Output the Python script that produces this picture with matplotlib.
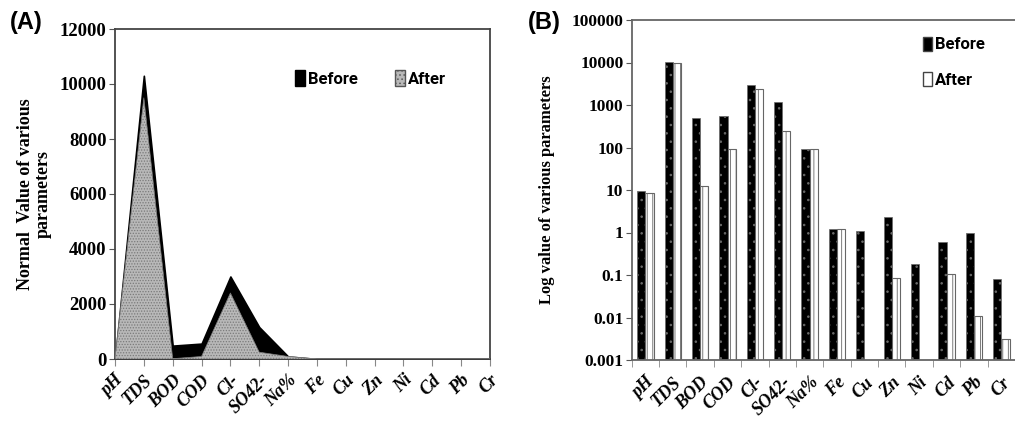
import matplotlib
matplotlib.use("Agg")
import matplotlib.pyplot as plt
import numpy as np

params = ["pH", "TDS", "BOD", "COD", "Cl-", "SO42-", "Na%", "Fe", "Cu", "Zn",
          "Ni", "Cd", "Pb", "Cr"]
before = [9.6, 10300, 486, 560, 3000, 1160, 92, 1.19, 1.08, 2.28, 0.18, 0.61, 0.99, 0.079]
after = [8.4, 9500, 12.4, 92, 2400, 248, 92, 1.19, np.nan, 0.087, np.nan, 0.104, 0.0108, 0.0032]

a_yticks = [0, 2000, 4000, 6000, 8000, 10000, 12000]
b_yticks = [0.001, 0.01, 0.1, 1, 10, 100, 1000, 10000, 100000]
b_yticklabels = ["0.001", "0.01", "0.1", "1", "10", "100", "1000", "10000", "100000"]

SERIF = "Liberation Serif"
NARROW = ["Liberation Sans Narrow", "Roboto", "DejaVu Sans"]
plt.rcParams["hatch.linewidth"] = 0.6

W, H = 1015, 422
fig = plt.figure(figsize=(W / 100, H / 100), dpi=100)
x = np.arange(len(params))

# ---- panel A: area chart, linear scale
axA = fig.add_axes([115 / W, 1 - 359 / H, 375 / W, 330 / H])
bef_a = np.nan_to_num(np.array(before, dtype=float))
aft_a = np.nan_to_num(np.array(after, dtype=float))
axA.fill_between(x, 0, bef_a, facecolor="black", edgecolor="black", lw=1.2, zorder=2)
axA.fill_between(x, 0, aft_a, facecolor="#b8b8b8", edgecolor="#7a7a7a", hatch="......",
                 lw=0.5, zorder=3)
axA.set_xlim(0, len(params) - 1)
axA.set_ylim(0, 12000)
axA.set_yticks(a_yticks)
axA.set_yticklabels([str(v) for v in a_yticks], fontfamily=SERIF, fontweight="bold",
                    fontsize=13.5)
axA.set_xticks(x)
axA.set_xticklabels(params, rotation=45, ha="right", rotation_mode="anchor",
                    fontfamily=SERIF, fontweight="bold", fontstyle="italic", fontsize=13)
axA.tick_params(axis="x", length=5, color="#888888", pad=4)
axA.tick_params(axis="y", length=4, color="#555555", pad=2)
for s in axA.spines.values():
    s.set_color("#444444")
    s.set_linewidth(1.3)
axA.set_ylabel("Normal  Value of various\nparameters", fontfamily=SERIF,
               fontweight="bold", fontsize=13, labelpad=6, linespacing=1.0)

hb = plt.Rectangle((0, 0), 1, 1, facecolor="black", edgecolor="black")
ha = plt.Rectangle((0, 0), 1, 1, facecolor="#b8b8b8", edgecolor="#555555", hatch="....")
axA.legend([hb, ha], ["Before", "After"], ncol=2, loc="upper left",
           bbox_to_anchor=(0.44, 0.92), frameon=False, handlelength=0.6,
           handleheight=1.1, handletextpad=0.2, columnspacing=2.2,
           prop={"family": NARROW, "weight": "bold", "size": 12})
fig.text(10 / W, 1 - 22 / H, "(A)", fontsize=17, fontweight="bold",
         fontfamily="Liberation Sans", va="center")

# ---- panel B: grouped bars, log scale
axB = fig.add_axes([631.7 / W, 1 - 360 / H, (W - 631.7) / W, 340 / H])
bw = 0.3
axB.bar(x - bw / 2, before, bw, facecolor="black", edgecolor="#6a6a6a", hatch="..",
        lw=0.5, zorder=2)
axB.bar(x + bw / 2, after, bw, facecolor="white", edgecolor="#666666", hatch="|||",
        lw=0.8, zorder=2)
axB.set_yscale("log")
axB.set_ylim(0.001, 100000)
axB.set_xlim(-0.5, 13.42)
axB.set_yticks(b_yticks)
axB.set_yticklabels(b_yticklabels, fontfamily=SERIF, fontweight="bold", fontsize=12.5)
axB.yaxis.set_minor_locator(matplotlib.ticker.NullLocator())
axB.set_xticks(x)
axB.set_xticklabels(params, rotation=45, ha="right", rotation_mode="anchor",
                    fontfamily=SERIF, fontweight="bold", fontstyle="italic", fontsize=13)
axB.set_xticks(np.arange(-0.5, 13.6, 1.0), minor=True)
axB.tick_params(axis="x", which="major", length=0, pad=10)
axB.tick_params(axis="x", which="minor", length=5, color="#888888")
axB.tick_params(axis="y", length=4, color="#555555", pad=2)
axB.spines["right"].set_visible(False)
for k in ("left", "bottom", "top"):
    axB.spines[k].set_color("#666666")
    axB.spines[k].set_linewidth(1.3)
axB.set_ylabel("Log value of various parameters", fontfamily=SERIF,
               fontweight="bold", fontsize=12, labelpad=12)

hb2 = plt.Rectangle((0, 0), 1, 1, facecolor="black", edgecolor="#444444")
ha2 = plt.Rectangle((0, 0), 1, 1, facecolor="white", edgecolor="#444444")
axB.legend([hb2, ha2], ["Before", "After"], loc="upper left",
           bbox_to_anchor=(0.72, 0.995), frameon=False, handlelength=0.55,
           handleheight=0.9, handletextpad=0.2, labelspacing=1.2,
           prop={"family": NARROW, "weight": "bold", "size": 12})
fig.text(528 / W, 1 - 22 / H, "(B)", fontsize=17, fontweight="bold",
         fontfamily="Liberation Sans", va="center")

fig.savefig("out.png", dpi=100)
